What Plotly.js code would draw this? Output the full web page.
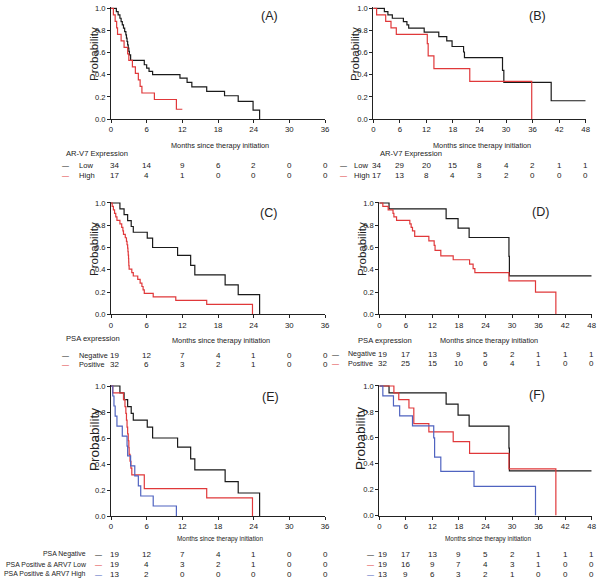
<!DOCTYPE html>
<html><head><meta charset="utf-8">
<script src="https://cdn.plot.ly/plotly-3.0.1.min.js"></script>
<style>html,body{margin:0;padding:0;background:#fff}#chart{width:600px;height:583px}</style>
</head><body><div id="chart"></div>
<script>
// ---------- DATA ----------
const riskTimesShort = [0,6,12,18,24,30,36];
const riskTimesLong  = [0,6,12,18,24,30,36,42,48];

// Panel A (AR-V7, short follow-up)
const tA_low  = [0,0.9,1.2,1.5,1.7,1.9,2.1,2.3,2.5,2.6,2.7,2.8,2.9,3.0,3.1,3.3,5.6,6.0,6.4,7.0,11.6,12.8,13.6,16.1,19.1,21.4,23.9,25.0];
const sA_low  = [1,0.97,0.94,0.91,0.88,0.85,0.82,0.79,0.76,0.73,0.70,0.67,0.64,0.61,0.58,0.53,0.49,0.46,0.43,0.40,0.37,0.33,0.29,0.25,0.21,0.16,0.08,0];
const tA_high = [0,0.4,0.7,0.95,1.1,1.7,2.2,2.8,3.0,3.6,4.1,4.6,4.9,5.2,7.3,11.0,12.0];
const sA_high = [1,0.941,0.882,0.824,0.765,0.706,0.647,0.588,0.529,0.471,0.412,0.353,0.294,0.235,0.176,0.088,0.088];
const riskA_low  = [34,14,9,6,2,0,0];
const riskA_high = [17,4,1,0,0,0,0];

// Panel B (AR-V7, long follow-up)
const tB_low  = [0,2.5,3.3,4.3,6.8,7.6,8.0,11.5,14.8,16.6,17.8,20.4,20.6,29.2,29.5,40.2,48];
const sB_low  = [1,0.97,0.94,0.91,0.88,0.85,0.82,0.785,0.745,0.705,0.655,0.605,0.555,0.44,0.33,0.165,0.165];
const tB_high = [0,0.75,2.8,4.0,5.2,12.2,12.4,13.7,21.8,35.8];
const sB_high = [1,0.941,0.882,0.824,0.765,0.68,0.57,0.455,0.34,0];
const riskB_low  = [34,29,20,15,8,4,2,1,1];
const riskB_high = [17,13,8,4,3,2,0,0,0];

// Panel C (PSA, short follow-up)
const tC_neg = [0,1.5,2.2,2.8,3.4,3.75,6.1,7.0,11.2,13.4,14.1,19.2,21.4,25.0];
const sC_neg = [1,0.947,0.895,0.842,0.789,0.737,0.684,0.60,0.53,0.44,0.355,0.265,0.177,0];
const tC_pos = [0,0.2,0.4,0.6,0.8,1.0,1.5,1.8,2.0,2.1,2.4,2.6,2.7,2.8,2.85,2.9,2.95,2.98,3.0,3.05,3.5,3.75,4.5,4.9,5.2,5.4,5.6,7.1,10.9,16.1,23.8];
const sC_pos = [1,0.969,0.938,0.906,0.875,0.844,0.813,0.781,0.75,0.719,0.688,0.656,0.625,0.594,0.563,0.531,0.50,0.469,0.438,0.406,0.375,0.344,0.313,0.281,0.25,0.219,0.188,0.156,0.125,0.09,0];
const riskC_neg = [19,12,7,4,1,0,0];
const riskC_pos = [32,6,3,2,1,0,0];

// Panel D (PSA, long follow-up)
const tD_neg = [0,2.2,15.1,17.8,20.3,29.3,29.4,48];
const sD_neg = [1,0.947,0.86,0.775,0.69,0.52,0.345,0.345];
const tD_pos = [0,0.8,2.0,3.1,3.3,3.9,6.9,7.2,7.5,8.0,11.2,12.4,12.6,13.9,16.7,20.4,21.2,21.6,29.3,35.3,39.9];
const sD_pos = [1,0.969,0.938,0.906,0.875,0.844,0.813,0.781,0.75,0.70,0.66,0.62,0.575,0.525,0.49,0.45,0.41,0.375,0.30,0.20,0];
const riskD_neg = [19,17,13,9,5,2,1,1,1];
const riskD_pos = [32,25,15,10,6,4,1,0,0];

// Panel E (combined, short follow-up)
const tE_low  = [0,0.3,2.1,2.35,2.5,2.6,2.7,2.8,2.9,3.0,3.05,3.2,3.35,3.5,5.6,16.1,23.8];
const sE_low  = [1,0.947,0.895,0.842,0.789,0.737,0.684,0.632,0.579,0.526,0.474,0.421,0.368,0.316,0.21,0.14,0];
const tE_high = [0,0.3,0.5,0.7,1.0,1.9,2.7,2.8,3.3,4.0,4.6,5.0,7.1,11.0];
const sE_high = [1,0.923,0.846,0.769,0.692,0.615,0.538,0.462,0.385,0.308,0.231,0.154,0.077,0];
const riskE_neg  = [19,12,7,4,1,0,0];
const riskE_low  = [19,4,3,2,1,0,0];
const riskE_high = [13,2,0,0,0,0,0];

// Panel F (combined, long follow-up)
const tF_low  = [0,3.3,4.4,6.7,7.8,11.2,16.7,20.4,29.3,39.9];
const sF_low  = [1,0.947,0.895,0.83,0.71,0.645,0.57,0.48,0.36,0];
const tF_high = [0,0.8,3.2,4.6,7.5,12.3,12.5,13.9,21.4,35.3];
const sF_high = [1,0.923,0.846,0.769,0.692,0.60,0.45,0.34,0.225,0];
const riskF_neg  = [19,17,13,9,5,2,1,1,1];
const riskF_low  = [19,16,9,7,4,3,1,0,0];
const riskF_high = [13,9,6,3,2,1,0,0,0];

const labelsAB = ['Low','High'];
const labelsCD = ['Negative','Positive'];
const labelsEF = ['PSA Negative','PSA Positive & ARV7 Low','PSA Positive & ARV7 High'];

// ---------- STYLE / LAYOUT ----------
const W = 600, H = 583;
const BLACK = '#1a1a1a', RED = '#e0383a', BLUE = '#4f63c0';
const fR = "'Liberation Sans',Arial,sans-serif";
const INK = '#222';
const px = x => x / W;
const py = y => 1 - y / H;

// pixel geometry of each panel: x0,x1 (axis start/end), y0 (value 0), y1 (value 1.0)
const panels = [
  {id:'', x0:111, x1:325, xmax:36, y0:119,   y1:8.3,  label:'(A)', lx:269, ly:16,  px:94,  pyc:54,  tx:220, ty:146},
  {id:'2',x0:373.3,x1:585.7,xmax:48,y0:119,  y1:8.3,  label:'(B)', lx:537, ly:16,  px:355, pyc:54,  tx:482, ty:146},
  {id:'3',x0:111, x1:325, xmax:36, y0:314.3, y1:203,  label:'(C)', lx:268, ly:213, px:94,  pyc:249, tx:221, ty:340},
  {id:'4',x0:379.3,x1:591.7,xmax:48,y0:314.3,y1:203,  label:'(D)', lx:540, ly:212, px:362, pyc:249, tx:489, ty:340},
  {id:'5',x0:111, x1:325, xmax:36, y0:516,   y1:386,  label:'(E)', lx:270, ly:397, px:94,  pyc:440, tx:220, ty:539},
  {id:'6',x0:379.3,x1:591.7,xmax:48,y0:515.5,y1:386,  label:'(F)', lx:537, ly:395, px:360, pyc:439, tx:488, ty:539}
];
const YTOP = 1.01;

const layout = {
  width: W, height: H, margin: {l:0,r:0,t:0,b:0},
  paper_bgcolor:'#fff', plot_bgcolor:'rgba(0,0,0,0)',
  showlegend:false, annotations:[], font:{family:fR, color:INK}
};

panels.forEach(p => {
  const big = p.id==='5' || p.id==='6';
  const ytopPx = p.y0 - (p.y0 - p.y1) * YTOP;
  layout['xaxis'+p.id] = {
    domain:[px(p.x0), px(p.x1)], range:[0, p.xmax], anchor:'y'+p.id,
    tickvals: p.xmax === 36 ? riskTimesShort : riskTimesLong,
    ticks:'outside', ticklen:3, tickwidth:1, tickcolor:INK,
    showline:true, linecolor:INK, linewidth:1, showgrid:false, zeroline:false,
    tickfont:{family:fR, size:7.8, color:INK}, fixedrange:true
  };
  layout['yaxis'+p.id] = {
    domain:[py(p.y0), py(ytopPx)], range:[0, YTOP], anchor:'x'+p.id,
    tickvals:[0,0.2,0.4,0.6,0.8,1.0], tickformat:'.1f',
    ticks:'outside', ticklen:3, tickwidth:1, tickcolor:INK,
    showline:true, linecolor:INK, linewidth:1, showgrid:false, zeroline:false,
    tickfont:{family:fR, size:7.6, color:INK}, fixedrange:true
  };
  layout.annotations.push(
    {xref:'paper', yref:'paper', x:px(p.lx), y:py(p.ly), text:p.label, showarrow:false,
     xanchor:'center', yanchor:'middle', font:{family:fR, size:12.5, color:INK}},
    {xref:'paper', yref:'paper', x:px(p.px), y:py(p.pyc), text:'Probability', showarrow:false,
     textangle:-90, xanchor:'center', yanchor:'middle',
     font:{family:fR, size: big ? 13.5 : 11.5, color:INK}},
    {xref:'paper', yref:'paper', x:px(p.tx), y:py(p.ty), text:'Months since therapy initiation', showarrow:false,
     xanchor:'center', yanchor:'middle',
     font:{family:fR, size: big ? 6.4 : 7.3, color:INK}}
  );
});

// ---------- CURVES ----------
function curve(t, s, color, ax) {
  return {x:t, y:s, type:'scatter', mode:'lines', line:{shape:'hv', color:color, width:1.2},
          xaxis:'x'+ax, yaxis:'y'+ax, hoverinfo:'skip'};
}
const data = [
  curve(tA_low, sA_low, BLACK, ''),  curve(tA_high, sA_high, RED, ''),
  curve(tB_low, sB_low, BLACK, '2'), curve(tB_high, sB_high, RED, '2'),
  curve(tC_neg, sC_neg, BLACK, '3'), curve(tC_pos, sC_pos, RED, '3'),
  curve(tD_neg, sD_neg, BLACK, '4'), curve(tD_pos, sD_pos, RED, '4'),
  curve(tC_neg, sC_neg, BLACK, '5'), curve(tE_low, sE_low, RED, '5'), curve(tE_high, sE_high, BLUE, '5'),
  curve(tD_neg, sD_neg, BLACK, '6'), curve(tF_low, sF_low, RED, '6'), curve(tF_high, sF_high, BLUE, '6')
];

// ---------- RISK TABLES ----------
const A = layout.annotations;
function txt(x, y, s, opt={}) {
  A.push(Object.assign({xref:'paper', yref:'paper', x:px(x), y:py(y), text:s, showarrow:false,
    xanchor:'left', yanchor:'middle', font:{family:fR, size:7.6, color:INK}}, opt));
}
function dash(x, y, color) {
  A.push({xref:'paper', yref:'paper', x:px(x), y:py(y), text:'—', showarrow:false,
    xanchor:'center', yanchor:'middle', font:{family:fR, size:7, color:color}});
}
function row(ax, times, vals, y) {
  times.forEach((t, i) => A.push({xref:'x'+ax, yref:'paper', x:t, y:py(y), text:String(vals[i]),
    showarrow:false, xanchor:'center', yanchor:'middle', xshift: i === 0 ? 3 : 0,
    font:{family:fR, size:8, color:INK}}));
}

// A
txt(64, 153, 'AR-V7 Expression');
dash(65, 165.7, BLACK); txt(77, 165.7, labelsAB[0]);
dash(65, 175.7, RED);   txt(77, 175.7, labelsAB[1]);
row('', riskTimesShort, riskA_low, 165.7); row('', riskTimesShort, riskA_high, 175.7);
// B
txt(377.7, 154, 'AR-V7 Expression');
dash(343, 165.7, BLACK); txt(352, 165.7, labelsAB[0]);
dash(343, 175.7, RED);   txt(352, 175.7, labelsAB[1]);
row('2', riskTimesLong, riskB_low, 165.7); row('2', riskTimesLong, riskB_high, 175.7);
// C
txt(64, 338, 'PSA expression');
dash(65, 355, BLACK); txt(77, 355, labelsCD[0], {font:{family:fR, size:7.3, color:INK}});
dash(65, 364.3, RED); txt(77, 364.3, labelsCD[1], {font:{family:fR, size:7.3, color:INK}});
row('3', riskTimesShort, riskC_neg, 355); row('3', riskTimesShort, riskC_pos, 364.3);
// D
txt(356, 340, 'PSA expression');
dash(335.5, 354.3, BLACK); txt(345.7, 354.3, labelsCD[0], {font:{family:fR, size:7.1, color:INK}});
dash(335.5, 363.7, RED);   txt(345.7, 363.7, labelsCD[1], {font:{family:fR, size:7.1, color:INK}});
row('4', riskTimesLong, riskD_neg, 354.3); row('4', riskTimesLong, riskD_pos, 363.7);
// E and F
const ysEF = [554, 564, 574];
const colsEF = [BLACK, RED, BLUE];
const risksE = [riskE_neg, riskE_low, riskE_high];
const risksF = [riskF_neg, riskF_low, riskF_high];
ysEF.forEach((y, i) => {
  txt(88, y, labelsEF[i], {xanchor:'right', font:{family:fR, size:6.9, color:INK}});
  dash(98.7, y, colsEF[i]);
  row('5', riskTimesShort, risksE[i], y);
  dash(370, y, colsEF[i]);
  row('6', riskTimesLong, risksF[i], y);
});

Plotly.newPlot('chart', data, layout, {staticPlot:true, displayModeBar:false});
</script></body></html>
